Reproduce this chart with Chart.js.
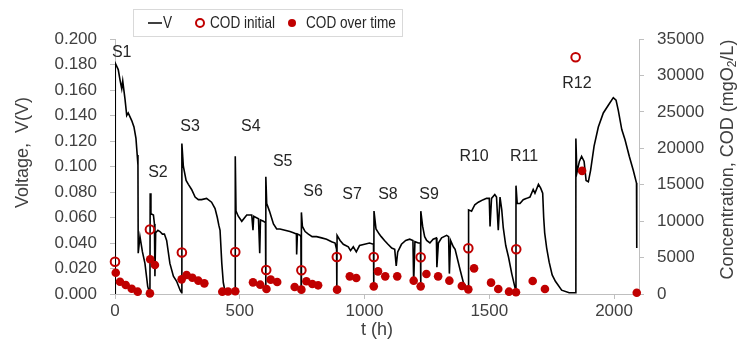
<!DOCTYPE html>
<html>
<head>
<meta charset="utf-8">
<script src="https://cdn.jsdelivr.net/npm/chart.js@4.4.0/dist/chart.umd.min.js"></script>
<style>
  html, body { margin: 0; padding: 0; background: #fff; }
  #wrap { width: 738px; height: 345px; }
</style>
</head>
<body>
<div id="wrap"><canvas id="cv"></canvas></div>
<script>
// cell voltage trace, t in hours, V in volts
const vTime = [
  0, 1, 13, 20, 27, 31, 40, 47, 53, 67, 76, 84, 89, 92, 93, 100, 110, 120, 131, 138, 140,
  141, 144, 154, 158, 160, 163, 172, 180, 190, 198, 207, 220, 234, 247, 261, 267,
  268, 274, 285, 294, 307, 321, 334, 347, 367, 387, 401, 410, 416, 421, 428, 434, 441, 481,
  482, 485, 494, 508, 528, 548, 553, 556, 575, 580, 583, 595, 603, 604,
  605, 608, 619, 635, 648, 661, 681, 701, 715, 727, 728, 731, 742, 745, 746,
  747, 751, 762, 775, 790, 808, 828, 848, 868, 882, 888, 889,
  890, 902, 915, 935, 944, 955, 967, 980, 1000, 1020, 1036, 1037,
  1038, 1046, 1059, 1067, 1080, 1094, 1109, 1121, 1127, 1133, 1148, 1165, 1181, 1194, 1197, 1202, 1216, 1224, 1225,
  1226, 1233, 1241, 1249, 1262, 1275, 1288, 1290, 1296, 1309, 1329, 1337, 1340, 1345, 1356, 1363, 1383, 1396, 1410, 1416,
  1417, 1429, 1442, 1456, 1476, 1489, 1500, 1503, 1509, 1522, 1529, 1536, 1543, 1550, 1556, 1566, 1577, 1590, 1603, 1606,
  1607, 1612, 1623, 1636, 1650, 1663, 1676, 1683, 1697, 1706, 1714, 1718, 1722, 1730, 1740, 1752, 1765, 1790, 1820, 1846,
  1847, 1851, 1861, 1870, 1880, 1888, 1897, 1906, 1920, 1937, 1957, 1977, 1997, 2008, 2017, 2031, 2044, 2061, 2077, 2090, 2091
];
const vVolt = [
  0, 0.181, 0.176, 0.168, 0.161, 0.167, 0.153, 0.140, 0.142, 0.136, 0.131, 0.122, 0.109, 0.101, 0.032, 0.045, 0.033, 0.024, 0.006, 0.001, 0,
  0.079, 0.063, 0.062, 0.055, 0.014, 0.048, 0.050, 0.049, 0.047, 0.047, 0.042, 0.024, 0.014, 0.010, 0.003, 0.001,
  0.118, 0.100, 0.089, 0.086, 0.082, 0.076, 0.074, 0.074, 0.075, 0.072, 0.067, 0.060, 0.054, 0.050, 0.024, 0.009, 0.002, 0.001,
  0.108, 0.065, 0.061, 0.057, 0.062, 0.062, 0.050, 0.061, 0.059, 0.032, 0.058, 0.057, 0.056, 0.005,
  0.092, 0.071, 0.065, 0.055, 0.051, 0.051, 0.050, 0.049, 0.048, 0.047, 0.031, 0.047, 0.046, 0.045, 0.003,
  0.064, 0.053, 0.049, 0.047, 0.045, 0.045, 0.044, 0.043, 0.041, 0.040, 0.035, 0.003,
  0.046, 0.042, 0.039, 0.037, 0.034, 0.037, 0.033, 0.038, 0.039, 0.040, 0.039, 0.005,
  0.065, 0.051, 0.047, 0.045, 0.042, 0.039, 0.036, 0.035, 0.022, 0.033, 0.039, 0.042, 0.043, 0.042, 0.009, 0.041, 0.040, 0.040, 0.005,
  0.065, 0.053, 0.045, 0.042, 0.040, 0.043, 0.044, 0.021, 0.040, 0.044, 0.046, 0.045, 0.016, 0.042, 0.037, 0.035, 0.019, 0.009, 0.005, 0.004,
  0.066, 0.065, 0.070, 0.072, 0.074, 0.075, 0.075, 0.053, 0.075, 0.078, 0.076, 0.050, 0.076, 0.066, 0.052, 0.038, 0.029, 0.016, 0.005, 0.003,
  0.085, 0.071, 0.071, 0.074, 0.075, 0.076, 0.082, 0.079, 0.086, 0.083, 0.079, 0.060, 0.048, 0.036, 0.025, 0.015, 0.010, 0.003, 0.001, 0.001,
  0.122, 0.095, 0.104, 0.108, 0.104, 0.089, 0.088, 0.097, 0.116, 0.131, 0.142, 0.148, 0.154, 0.152, 0.144, 0.129, 0.121, 0.108, 0.097, 0.087, 0.036
];

// COD at the start of each cycle (mgO2/L)
const codInitT = [0, 140, 268, 482, 606, 747, 889, 1037, 1225, 1416, 1608, 1846];
const codInitVal = [4430, 8850, 5700, 5770, 3290, 3250, 5080, 5080, 5040, 6270, 6150, 32500];

// COD sampled during the cycles
const codT = [
  3, 20, 43, 67, 91, 140, 141, 160, 267, 287, 310, 334, 358, 430, 453, 482,
  553, 582, 607, 624, 650, 720, 747, 767, 791, 814, 890, 941, 967,
  1037, 1054, 1083, 1131, 1197, 1225, 1248, 1295, 1340, 1390, 1416, 1439,
  1507, 1536, 1579, 1607, 1674, 1723, 1872, 2091
];
const codVal = [
  2920, 1690, 1235, 730, 320, 90, 4760, 3980, 2010, 2610, 2240, 1830, 1460, 320, 350, 370,
  1600, 1280, 690, 1970, 1650, 960, 600, 1740, 1370, 1190, 600, 2420, 2200,
  1050, 3110, 2420, 2420, 1830, 1050, 2740, 2420, 1830, 1100, 640, 3520,
  1560, 690, 320, 230, 1780, 690, 16900, 180
];

// cycle names and where they sit (t, V)
const cycleNames = ['S1', 'S2', 'S3', 'S4', 'S5', 'S6', 'S7', 'S8', 'S9', 'R10', 'R11', 'R12'];
const cycleT = [27, 172, 301, 544, 672, 794, 950, 1094, 1259, 1439, 1639, 1851];
const cycleV = [0.189, 0.095, 0.131, 0.131, 0.104, 0.080, 0.078, 0.078, 0.078, 0.108, 0.108, 0.165];

const xTicks = [0, 500, 1000, 1500, 2000];

const FONT = '"Liberation Sans", Arial, sans-serif';
const TXT = '#404040';
const RED = '#C00000';
const AXIS = '#BFBFBF';

const extras = {
  id: 'extras',
  afterDatasetsDraw(chart) {
    const c = chart.ctx;
    const xs = chart.scales.x, ys = chart.scales.y;
    c.save();
    c.font = '16px ' + FONT;
    c.fillStyle = '#262626';
    c.textAlign = 'center';
    c.textBaseline = 'middle';
    cycleNames.forEach((n, i) => {
      c.fillText(n, xs.getPixelForValue(cycleT[i]), ys.getPixelForValue(cycleV[i]));
    });
    c.restore();
  },
  afterDraw(chart) {
    const c = chart.ctx;
    const area = chart.chartArea;
    const midY = (area.top + area.bottom) / 2;
    c.save();
    c.fillStyle = TXT;
    c.textBaseline = 'middle';

    // left axis title
    c.font = '18px ' + FONT;
    c.save();
    c.translate(23, midY - 14);
    c.rotate(-Math.PI / 2);
    c.textAlign = 'center';
    c.fillText('Voltage,  V(V)', 0, 0);
    c.restore();

    // right axis title, with subscript 2
    c.save();
    c.translate(728, midY - 7);
    c.rotate(-Math.PI / 2);
    const a = 'Concentration, COD (mgO', b = '2', d = '/L)';
    c.font = '18px ' + FONT;
    const wa = c.measureText(a).width, wd = c.measureText(d).width;
    c.font = '12px ' + FONT;
    const wb = c.measureText(b).width;
    let x0 = -(wa + wb + wd) / 2;
    c.textAlign = 'left';
    c.font = '18px ' + FONT;
    c.fillText(a, x0, 0);
    c.font = '12px ' + FONT;
    c.fillText(b, x0 + wa, 5);
    c.font = '18px ' + FONT;
    c.fillText(d, x0 + wa + wb, 0);
    c.restore();

    // legend box
    c.fillStyle = '#fff';
    c.strokeStyle = '#D9D9D9';
    c.lineWidth = 1;
    c.fillRect(133.5, 9.5, 269, 27);
    c.strokeRect(133.5, 9.5, 269, 27);
    const ly = 23;
    c.strokeStyle = '#000';
    c.lineWidth = 1.5;
    c.beginPath(); c.moveTo(148, ly); c.lineTo(162, ly); c.stroke();
    c.strokeStyle = RED;
    c.lineWidth = 2;
    c.beginPath(); c.arc(200, ly, 4, 0, Math.PI * 2); c.stroke();
    c.fillStyle = RED;
    c.beginPath(); c.arc(292, ly, 4, 0, Math.PI * 2); c.fill();
    c.fillStyle = '#262626';
    c.font = '17px ' + FONT;
    c.textAlign = 'left';
    [['V', 163], ['COD initial', 210], ['COD over time', 306]].forEach(([s, x]) => {
      c.save();
      c.translate(x, ly);
      c.scale(0.8, 1);
      c.fillText(s, 0, 0);
      c.restore();
    });
    c.restore();
  }
};

new Chart(
  document.getElementById('cv'),
  {
    data: {
      datasets: [
        {
          type: 'line',
          label: 'V',
          data: vTime.map((t, i) => ({ x: t, y: vVolt[i] })),
          yAxisID: 'y',
          borderColor: '#000000',
          borderWidth: 1.6,
          pointRadius: 0,
          tension: 0,
          order: 3,
        },
        {
          type: 'scatter',
          label: 'COD initial',
          data: codInitT.map((t, i) => ({ x: t, y: codInitVal[i] })),
          yAxisID: 'y2',
          pointRadius: 4.3,
          pointBorderWidth: 2,
          pointBorderColor: RED,
          pointBackgroundColor: 'rgba(255,255,255,0)',
          clip: false,
          order: 2,
        },
        {
          type: 'scatter',
          label: 'COD over time',
          data: codT.map((t, i) => ({ x: t, y: codVal[i] })),
          yAxisID: 'y2',
          pointRadius: 4.3,
          pointBorderWidth: 0,
          pointBackgroundColor: RED,
          clip: false,
          order: 1,
        },
      ]
    },
    options: {
      responsive: true,
      maintainAspectRatio: false,
      animation: false,
      devicePixelRatio: 1,
      layout: { padding: { top: 39, left: 0, right: 0, bottom: 0 } },
      plugins: {
        legend: { display: false },
        tooltip: { enabled: false },
      },
      scales: {
        x: {
          type: 'linear',
          position: 'bottom',
          min: 0,
          max: 2100,
          afterBuildTicks: (s) => { s.ticks = xTicks.map(v => ({ value: v })); },
          afterFit: (s) => { s.height = 51; },
          ticks: {
            font: { family: FONT, size: 17 }, color: TXT, padding: 2,
            callback: (v) => String(v),
          },
          grid: { drawOnChartArea: false, drawTicks: true, tickLength: 5, color: AXIS },
          border: { color: AXIS },
          title: {
            display: true, text: 't (h)', color: TXT,
            font: { family: FONT, size: 18 },
            padding: { top: 0, bottom: 4 },
          },
        },
        y: {
          type: 'linear',
          position: 'left',
          min: 0,
          max: 0.2,
          afterFit: (s) => { s.width = 115; },
          ticks: {
            stepSize: 0.02,
            font: { family: FONT, size: 17 },
            color: TXT,
            padding: 13,
            callback: (v) => v.toFixed(3),
          },
          grid: { drawOnChartArea: false, drawTicks: true, tickLength: 5, color: AXIS },
          border: { color: AXIS },
        },
        y2: {
          type: 'linear',
          position: 'right',
          min: 0,
          max: 35000,
          afterFit: (s) => { s.width = 99; },
          ticks: {
            stepSize: 5000,
            font: { family: FONT, size: 17 },
            color: TXT,
            padding: 13,
            callback: (v) => String(v),
          },
          grid: { drawOnChartArea: false, drawTicks: true, tickLength: 5, color: AXIS },
          border: { color: AXIS },
        },
      }
    },
    plugins: [extras],
  }
);
</script>
</body>
</html>
